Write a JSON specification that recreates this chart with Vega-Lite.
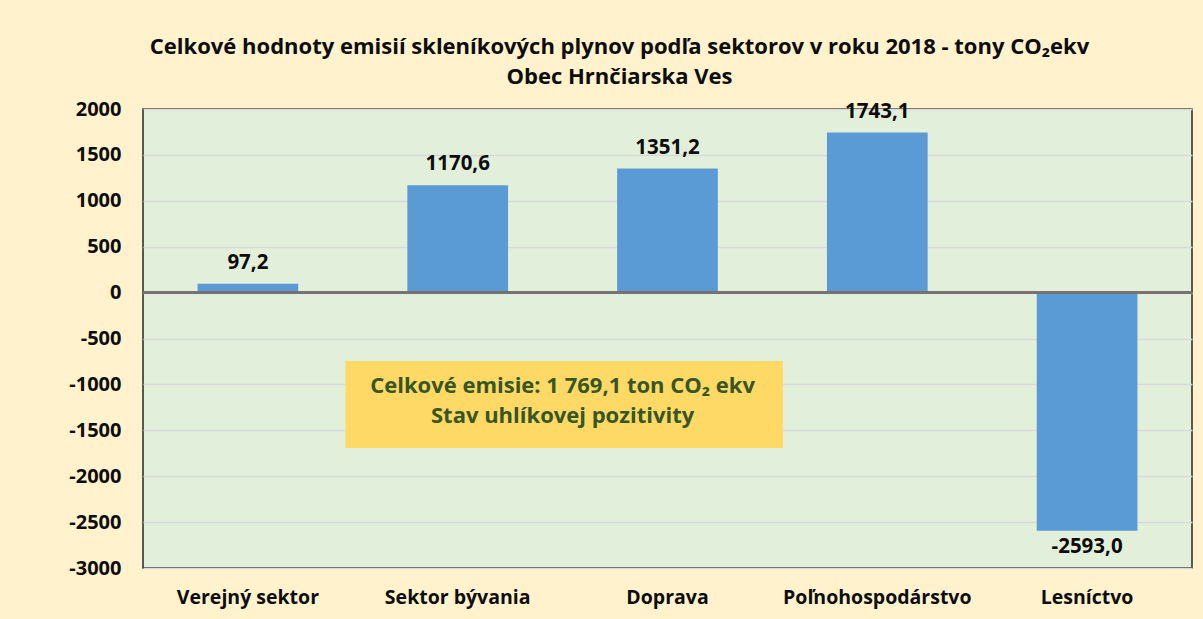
{
  "$schema": "https://vega.github.io/schema/vega-lite/v6.json",
  "autosize": "none",
  "width": 1049,
  "height": 459,
  "padding": {"left": 143, "top": 109, "right": 11, "bottom": 51},
  "background": "#FFF2CC",
  "config": {
    "font": "Open Sans",
    "view": {"fill": "#E2EFDA", "stroke": "#262626", "strokeWidth": 1.5}
  },
  "title": {
    "text": ["Celkové hodnoty emisií skleníkových plynov podľa sektorov v roku 2018 - tony CO₂ekv", "Obec Hrnčiarska Ves"],
    "fontSize": 22,
    "fontWeight": "bold",
    "color": "#0D0D0D",
    "lineHeight": 30,
    "anchor": "middle",
    "frame": "group",
    "dx": -48,
    "offset": 10
  },
  "datasets": {
    "sectors": [
      {"sector": "Verejný sektor", "value": 97.2, "label": "97,2"},
      {"sector": "Sektor bývania", "value": 1170.6, "label": "1170,6"},
      {"sector": "Doprava", "value": 1351.2, "label": "1351,2"},
      {"sector": "Poľnohospodárstvo", "value": 1743.1, "label": "1743,1"},
      {"sector": "Lesníctvo", "value": -2593.0, "label": "-2593,0"}
    ],
    "box": [{"x1": 0.965, "x2": 3.05, "y1": -745, "y2": -1693}],
    "boxText": [
      {"x": 2.0, "y": -1017, "text": "Celkové emisie: 1 769,1 ton CO₂ ekv"},
      {"x": 2.0, "y": -1344, "text": "Stav uhlíkovej pozitivity"}
    ]
  },
  "layer": [
    {
      "layer": [
        {
          "data": {"name": "sectors"},
          "mark": {"type": "bar", "color": "#5B9BD5"},
          "encoding": {
            "x": {
              "field": "sector", "type": "nominal", "sort": null,
              "scale": {"paddingInner": 0.52, "paddingOuter": 0.26},
              "axis": {"title": null, "labelAngle": 0, "ticks": false, "domain": false, "labelFontSize": 19.5, "labelFontWeight": "bold", "labelColor": "#0D0D0D", "labelPadding": 20, "labelLimit": 400}
            },
            "y": {
              "field": "value", "type": "quantitative",
              "scale": {"domain": [-3000, 2000], "nice": false},
              "axis": {"title": null, "values": [-3000, -2500, -2000, -1500, -1000, -500, 0, 500, 1000, 1500, 2000], "labelExpr": "'' + datum.value", "ticks": false, "domain": false, "gridColor": "#D9D9D9", "gridWidth": 1.5, "labelFontSize": 20, "labelFontWeight": "bold", "labelColor": "#0D0D0D", "labelPadding": 22}
            }
          }
        },
        {
          "data": {"name": "sectors"},
          "mark": {"type": "rule", "color": "#767171", "strokeWidth": 2},
          "encoding": {"y": {"datum": 0}}
        },
        {
          "data": {"name": "sectors"},
          "transform": [{"filter": "datum.value > 0"}],
          "mark": {"type": "text", "baseline": "bottom", "dy": -11, "fontSize": 20.5, "fontWeight": "bold", "color": "#0D0D0D", "clip": false},
          "encoding": {
            "x": {"field": "sector", "type": "nominal", "sort": null},
            "y": {"field": "value", "type": "quantitative"},
            "text": {"field": "label"}
          }
        },
        {
          "data": {"name": "sectors"},
          "transform": [{"filter": "datum.value < 0"}],
          "mark": {"type": "text", "baseline": "top", "dy": 6, "fontSize": 20.5, "fontWeight": "bold", "color": "#0D0D0D"},
          "encoding": {
            "x": {"field": "sector", "type": "nominal", "sort": null},
            "y": {"field": "value", "type": "quantitative"},
            "text": {"field": "label"}
          }
        }
      ]
    },
    {
      "data": {"name": "box"},
      "mark": {"type": "rect", "color": "#FFD966", "opacity": 1},
      "encoding": {
        "x": {"field": "x1", "type": "quantitative", "scale": {"domain": [0, 5], "nice": false, "zero": false}, "axis": null},
        "x2": {"field": "x2"},
        "y": {"field": "y1", "type": "quantitative"},
        "y2": {"field": "y2"}
      }
    },
    {
      "data": {"name": "boxText"},
      "mark": {"type": "text", "fontSize": 22, "fontWeight": "bold", "color": "#375623"},
      "encoding": {
        "x": {"field": "x", "type": "quantitative", "scale": {"domain": [0, 5], "nice": false, "zero": false}, "axis": null},
        "y": {"field": "y", "type": "quantitative"},
        "text": {"field": "text"}
      }
    }
  ],
  "resolve": {"scale": {"x": "independent"}}
}
